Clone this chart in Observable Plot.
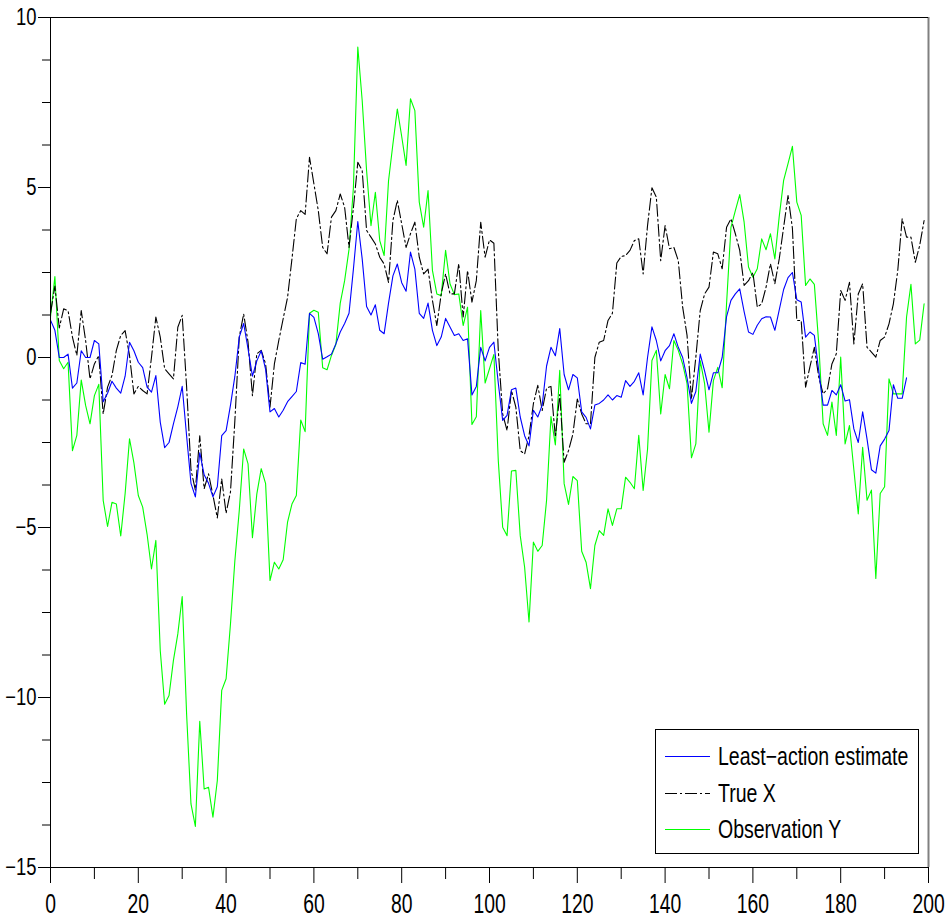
<!DOCTYPE html>
<html><head><meta charset="utf-8">
<script src="https://cdn.jsdelivr.net/npm/d3@7"></script>
<script src="https://cdn.jsdelivr.net/npm/@observablehq/plot@0.6"></script>
<style>
body{margin:0;background:#fff;}
#wrap{position:relative;width:950px;height:922px;}
.legend{position:absolute;left:655px;top:729px;width:262px;height:123px;border:1px solid #000;background:#fff;box-sizing:content-box;}
.legend .row{position:absolute;left:0;height:30px;width:262px;}
.legend svg{position:absolute;left:9px;top:14px;}
.legend span{position:absolute;left:62px;top:0;line-height:30px;white-space:nowrap;color:#000;transform-origin:0 50%;}
</style></head><body><div id="wrap"></div>
<script>
// Observation Y (green), t = 0..199
const observationY = [1.2,2.38,-0.09,-0.33,-0.14,-2.74,-2.29,-0.66,-1.41,-1.95,
-1.12,-0.79,-4.2,-4.97,-4.26,-4.31,-5.25,-4.0,-2.39,-3.1,
-4.06,-4.4,-5.2,-6.22,-5.38,-8.62,-10.2,-9.94,-8.91,-8.13,
-7.03,-10.48,-13.13,-13.79,-10.7,-12.69,-12.64,-13.52,-12.44,-9.79,
-9.45,-7.83,-5.97,-4.5,-2.69,-3.13,-5.3,-4.01,-3.27,-3.71,
-6.56,-6.02,-6.22,-5.95,-4.84,-4.31,-4.06,-1.84,-2.18,1.3,
1.39,1.33,-0.3,-0.36,0.06,0.38,1.6,2.26,3.18,5.0,
9.13,7.56,5.5,3.88,4.86,3.44,3.0,5.2,6.28,7.31,
6.5,5.65,7.61,7.26,4.57,3.83,4.91,2.56,1.87,1.82,
3.15,2.17,1.85,1.87,0.94,1.48,-1.97,-1.74,1.38,-0.75,
-0.33,0.09,-3.03,-4.99,-5.24,-3.34,-3.32,-5.24,-6.17,-7.78,
-5.43,-5.7,-5.53,-4.2,-1.74,-2.57,-0.38,-3.71,-4.32,-3.5,
-3.62,-5.7,-6.02,-6.8,-5.53,-5.09,-5.23,-4.45,-4.94,-4.45,
-4.45,-3.52,-3.67,-3.86,-2.29,-3.91,-2.7,-0.09,0.21,-1.66,
-0.5,-0.92,0.5,0.21,-0.19,-0.77,-2.95,-2.54,-0.09,-0.77,
-2.2,-0.68,-0.29,-0.89,1.58,3.83,4.32,4.79,3.98,2.66,
2.36,2.61,3.49,3.17,3.64,2.9,4.15,5.21,5.7,6.21,
4.57,4.18,2.12,2.31,2.15,0.4,-1.95,-2.29,-1.31,-2.29,
0.01,-2.54,-2.0,-3.3,-4.6,-2.64,-4.2,-3.9,-6.5,-4.0,
-3.8,-0.63,-1.07,-1.07,-1.07,1.19,2.15,0.4,0.51,1.58];

// True X (black dash-dot), t = 0..199
const trueX = [1.3,2.1,0.87,1.43,1.38,0.6,0.06,1.38,0.5,-0.63,
-0.19,0.06,-1.66,-0.87,-0.53,0.21,0.65,0.79,0.06,-1.07,
-0.85,-0.97,-1.07,0.0,1.19,0.6,-0.33,-0.48,-0.63,0.89,
1.24,-0.85,-3.3,-3.9,-2.3,-3.86,-3.42,-4.05,-4.72,-3.57,
-4.58,-3.95,-1.85,0.6,1.28,0.45,-1.12,0.11,0.21,-0.19,
-1.46,-0.19,0.5,1.14,1.77,2.9,4.08,4.32,4.21,5.89,
5.11,4.32,3.24,3.05,4.13,4.32,4.81,4.42,3.24,4.4,
5.74,5.5,3.74,3.54,3.34,2.95,2.75,2.21,4.03,4.62,
3.93,3.24,3.64,3.98,2.95,2.46,2.6,1.68,0.94,1.87,
2.46,1.87,1.87,2.76,1.19,2.56,1.63,2.26,3.98,2.95,
3.46,3.36,0.21,-1.66,-2.15,-0.97,-1.46,-2.74,-2.84,-2.3,
-1.36,-0.82,-1.56,-0.9,-0.85,-2.34,-1.09,-3.08,-2.74,-2.25,
-1.22,-1.66,-1.95,-1.95,0.0,0.45,0.5,1.09,1.3,2.78,
2.97,3.0,3.15,3.44,3.49,2.46,3.88,4.99,4.72,2.85,
3.88,3.2,3.24,2.85,1.48,0.65,-1.22,0.01,1.38,1.87,
2.07,3.1,3.05,2.61,3.83,4.08,3.64,3.15,2.12,2.26,
2.5,1.48,1.58,2.07,2.76,2.17,2.9,3.83,4.76,3.8,
1.09,1.09,-0.87,-0.27,0.3,-0.58,-1.07,-0.92,-0.19,0.11,
1.97,1.68,2.21,0.4,1.87,2.17,0.3,0.16,0.01,0.5,
0.6,0.99,1.58,2.56,4.08,3.54,3.54,2.8,3.3,4.03];

// Least-action estimate (blue), t = 0..195
const estimate = [1.1,0.8,0.0,0.0,0.1,-0.9,-0.75,0.2,0.0,0.0,
0.5,0.4,-1.3,-1.05,-0.7,-0.9,-1.05,-0.55,0.45,0.2,
-0.14,-0.3,-0.87,-1.02,-0.53,-1.9,-2.65,-2.5,-1.95,-1.45,
-0.85,-2.3,-3.7,-4.1,-2.8,-3.45,-3.7,-4.1,-3.8,-2.3,
-2.15,-1.4,-0.55,0.6,1.0,0.25,-0.55,-0.1,0.2,-0.35,
-1.6,-1.5,-1.75,-1.55,-1.3,-1.15,-1.0,-0.15,-0.2,1.3,
1.18,0.7,-0.05,0.02,0.1,0.4,0.75,1.0,1.3,2.6,
4.0,2.9,1.5,1.25,1.55,0.8,0.7,1.6,2.4,2.75,
2.2,1.95,3.1,2.6,1.3,1.15,1.6,0.8,0.35,0.6,
1.15,0.9,0.65,0.7,0.5,0.55,-1.1,-0.85,0.3,-0.1,
0.3,0.45,-0.75,-1.85,-1.7,-0.95,-0.9,-1.75,-2.3,-2.6,
-1.55,-1.75,-1.4,-0.25,0.3,0.05,0.85,-0.5,-0.95,-0.5,
-0.6,-1.6,-1.76,-2.1,-1.4,-1.35,-1.25,-1.1,-1.25,-1.12,
-1.17,-0.68,-0.85,-0.7,-0.45,-1.1,0.0,0.9,0.5,-0.1,
0.2,0.35,0.7,0.3,0.0,-0.6,-1.35,-1.0,0.1,-0.4,
-0.95,-0.45,-0.45,0.0,1.2,1.68,1.87,2.02,1.35,0.75,
0.68,0.95,1.14,1.2,1.19,0.8,1.4,2.0,2.35,2.5,
1.7,1.63,0.6,0.75,0.65,-0.4,-1.4,-1.4,-0.97,-1.1,
-0.8,-1.28,-1.24,-2.1,-2.5,-1.6,-2.4,-3.3,-3.4,-2.6,
-2.4,-2.15,-0.8,-1.2,-1.2,-0.6];

const seriesNames = ["Least\u2212action estimate", "True X", "Observation Y"];
const seriesColors = ["#0000ff", "#000000", "#00ff00"];
const seriesDash = [null, "12,3,2,3", null];

const yMajorTicks = [-15, -10, -5, 0, 5, 10];
const yMinorTicks = [-13.75,-12.5,-11.25,-8.75,-7.5,-6.25,-3.75,-2.5,-1.25,1.25,2.5,3.75,6.25,7.5,8.75];
const xMajorTicks = [0, 20, 40, 60, 80, 100, 120, 140, 160, 180, 200];
const xMinorTicks = [10, 30, 50, 70, 90, 110, 130, 150, 170, 190];

const FONT = "'Liberation Sans', Arial, sans-serif";

const toRows = (arr) => arr.map((v, i) => ({t: i, v}));
const fmt = d => (d < 0 ? "\u2212" + (-d) : String(d));

const chart = Plot.plot({
  width: 950,
  height: 922,
  marginLeft: 50,
  marginRight: 22,
  marginTop: 17,
  marginBottom: 55,
  style: {fontFamily: FONT, fontSize: "23px", color: "#000", background: "#fff"},
  x: {domain: [0, 200], axis: null},
  y: {domain: [-15, 10], axis: null},
  marks: [
    Plot.lineY(toRows(observationY), {x: "t", y: "v", stroke: seriesColors[2], strokeWidth: 1.1}),
    Plot.lineY(toRows(trueX), {x: "t", y: "v", stroke: seriesColors[1], strokeWidth: 1.1, strokeDasharray: seriesDash[1]}),
    Plot.lineY(toRows(estimate), {x: "t", y: "v", stroke: seriesColors[0], strokeWidth: 1.1}),
    Plot.ruleX([200], {stroke: "#808080", strokeWidth: 2}),
    Plot.ruleX([0], {stroke: "#000", strokeWidth: 1}),
    Plot.ruleY([10], {stroke: "#000", strokeWidth: 1}),
    Plot.ruleY([-15], {stroke: "#000", strokeWidth: 1}),
    Plot.axisY(yMajorTicks, {label: null, tickSize: 12, tickPadding: 2, tickFormat: fmt, fontSize: 23, stroke: "#000", fill: "#000"}),
    Plot.axisY(yMinorTicks, {label: null, tickSize: 8, tickFormat: () => "", stroke: "#000"}),
    Plot.axisX(xMajorTicks, {label: null, tickSize: 16, tickPadding: 10, tickFormat: fmt, fontSize: 28, stroke: "#000", fill: "#000"}),
    Plot.axisX(xMinorTicks, {label: null, tickSize: 12, tickFormat: () => "", stroke: "#000"})
  ]
});

const wrap = document.getElementById("wrap");
wrap.appendChild(chart);

// condense tick labels horizontally (narrow face look of the original)
function squeeze(sel, s) {
  chart.querySelectorAll(sel).forEach(t => {
    if (!t.textContent) return;
    const w = t.getComputedTextLength();
    if (w > 0) {
      t.setAttribute("textLength", (w * s).toFixed(2));
      t.setAttribute("lengthAdjust", "spacingAndGlyphs");
    }
  });
}
squeeze('g[aria-label="y-axis tick label"] text', 0.8);
squeeze('g[aria-label="x-axis tick label"] text', 0.69);

// legend
const lg = document.createElement("div");
lg.className = "legend";
lg.style.fontFamily = FONT;
lg.style.fontSize = "25px";
const rowTops = [11, 48, 84];
seriesNames.forEach((name, i) => {
  const row = document.createElement("div");
  row.className = "row";
  row.style.top = rowTops[i] + "px";
  const dash = seriesDash[i] ? `stroke-dasharray="${seriesDash[i]}"` : "";
  row.innerHTML = `<svg width="45" height="3" viewBox="0 0 45 3"><line x1="0" y1="1.5" x2="45" y2="1.5" stroke="${seriesColors[i]}" stroke-width="1" ${dash}/></svg><span style="transform:scaleX(0.78)">${name}</span>`;
  lg.appendChild(row);
});
wrap.appendChild(lg);
</script></body></html>
